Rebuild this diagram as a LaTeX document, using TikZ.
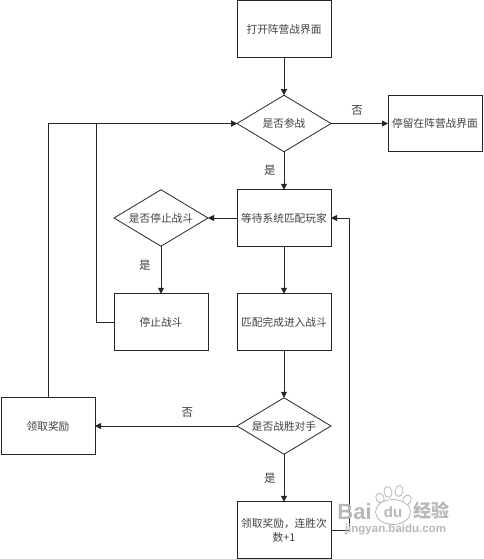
\documentclass[tikz,border=0pt]{standalone}
\usepackage{fontspec}
\setmainfont{Noto Sans CJK SC}
\newfontfamily\markfont{Liberation Sans}
\usepackage{tikz}
\usetikzlibrary{arrows.meta,positioning,shapes.geometric}

\begin{document}
\begin{tikzpicture}[
    stagebox/.style={rectangle, draw=black!85, line width=1pt, outer sep=0pt, inner sep=0pt, minimum width=94pt, minimum height=56.5pt, align=center, text=black!75, font=\fontsize{10.7pt}{14pt}\selectfont},
    choice/.style={diamond, shape aspect=1.66, draw=black!85, line width=0.8pt, outer sep=0pt, inner sep=0pt, minimum width=94pt, minimum height=56.5pt, align=center, text=black!75, font=\fontsize{10.7pt}{14pt}\selectfont},
    arrow/.style={-{Triangle[length=6pt,width=6pt]}, line width=1pt, draw=black!85},
    answer/.style={inner sep=0pt, text=black!75, font=\fontsize{11.5pt}{14pt}\selectfont},
    watermark/.style={inner sep=0pt, text=black!28},
    paw/.style={ellipse, draw=black!28, line width=0.8pt, fill=white, inner sep=0pt},
    node distance=38pt
]
\useasboundingbox (0pt,0pt) rectangle (483pt,-559pt);
\node[stagebox] (open) at (284pt,-29pt) {打开阵营战界面};
\node[choice, below=of open] (join) {是否参战};
\node[stagebox, right=57pt of join] (stay) {停留在阵营战界面};
\node[stagebox, below=of join] (wait) {等待系统匹配玩家};
\node[choice, left=29pt of wait] (quit) {是否停止战斗};
\node[stagebox, below=47.5pt of quit] (stop) {停止战斗};
\node[stagebox, below=47.5pt of wait] (match) {匹配完成进入战斗};
\node[choice, below=47.5pt of match] (win) {是否战胜对手};
\node[stagebox, left=142pt of win] (lose) {领取奖励};
\node[stagebox, below=47.5pt of win] (prize) {领取奖励，连胜次\\数+1};

\draw[arrow] (open) -- (join);
\draw[arrow] (join) -- node[answer, pos=0.46, above=8pt] (joinno) {否} (stay);
\draw[arrow] (join) -- node[answer, left=8pt] (joinyes) {是} (wait);
\draw[arrow] (wait) -- (quit);
\draw[arrow] (quit) -- node[answer, pos=0.4, left=10pt] (quityes) {是} (stop);
\draw[arrow] (wait) -- (match);
\draw[arrow] (match) -- (win);
\draw[arrow] (win) -- node[answer, pos=0.35, above=8pt] (winno) {否} (lose);
\draw[arrow] (win) -- node[answer, left=8pt] (winyes) {是} (prize);
\draw[arrow] (lose.north) |- (join.west);
\draw[arrow] (stop.west) -- ++(-18pt,0pt) |- (join.west);
\draw[arrow] (prize.east) -- ++(18pt,0pt) |- (wait.east);

% site mark over the lower right corner
\node[paw, minimum width=8pt, minimum height=11pt, rotate=15] (toea) at (388pt,-492pt) {};
\node[paw, minimum width=8pt, minimum height=11pt, rotate=-10] (toeb) at (399pt,-491pt) {};
\node[paw, minimum width=8pt, minimum height=10pt, rotate=-30] (toec) at (407pt,-500pt) {};
\node[paw, minimum width=8pt, minimum height=10pt, rotate=30] (toed) at (380pt,-498pt) {};
\node[paw, minimum width=35pt, minimum height=25pt] (palm) at (393pt,-512pt) {};
\node[watermark, font=\markfont\bfseries\fontsize{22pt}{23pt}\selectfont] (markbai) at (354.5pt,-512pt) {Bai};
\node[watermark, font=\markfont\bfseries\fontsize{15pt}{16pt}\selectfont] (markdu) at (393pt,-512pt) {du};
\node[watermark, font=\bfseries\fontsize{18pt}{20pt}\selectfont] (markjy) at (431.5pt,-510pt) {经验};
\node[watermark, font=\markfont\bfseries\fontsize{11.5pt}{13pt}\selectfont] (marksite) at (395.5pt,-530pt) {jingyan.baidu.com};
\end{tikzpicture}
\end{document}
